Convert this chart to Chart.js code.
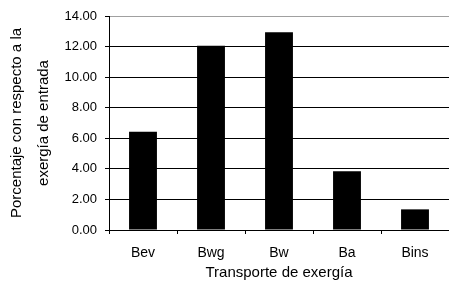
<!DOCTYPE html>
<html>
<head>
<meta charset="utf-8">
<script src="https://cdn.jsdelivr.net/npm/chart.js@4.4.0/dist/chart.umd.min.js"></script>
<style>
body{margin:0;background:#fff;}
#wrap{width:449px;height:282px;}
</style>
</head>
<body>
<div id="wrap"><canvas id="myChart" width="449" height="282"></canvas></div>
<script>
// datos
var categorias = ['Bev', 'Bwg', 'Bw', 'Ba', 'Bins'];
var porcentajes = [6.43, 12.05, 12.93, 3.84, 1.35];
var tituloY = ['Porcentaje con respecto a la', 'exergía de entrada'];
var tituloX = 'Transporte de exergía';

var fuente = "'Liberation Sans', Arial, sans-serif";

var ctx = document.getElementById('myChart').getContext('2d');
var chart = new Chart(ctx, {
    type: 'bar',
    data: {
        labels: categorias,
        datasets: [{
            data: porcentajes,
            backgroundColor: '#000',
            borderColor: '#000',
            borderWidth: 0,
            barPercentage: 0.41,
            categoryPercentage: 1
        }]
    },
    options: {
        responsive: false,
        animation: false,
        layout: { padding: { top: 16, right: 0, left: 0, bottom: 0 } },
        plugins: {
            legend: { display: false },
            tooltip: { enabled: false }
        },
        scales: {
            x: {
                offset: true,
                afterFit: function(s) { s.height = 52; },
                grid: {
                    offset: true,
                    drawOnChartArea: false,
                    drawTicks: true,
                    tickLength: 4,
                    tickColor: '#000'
                },
                border: { color: '#000', width: 1 },
                ticks: {
                    color: '#000',
                    padding: 11,
                    font: { family: fuente, size: 14 }
                },
                title: {
                    display: true,
                    text: tituloX,
                    color: '#000',
                    padding: { top: 0, bottom: 0 },
                    font: { family: fuente, size: 15 }
                }
            },
            y: {
                min: 0,
                max: 14,
                afterFit: function(s) { s.width = 109; },
                grid: {
                    color: function(c) { return c.tick && c.tick.value === 14 ? '#a0a0a0' : '#000'; },
                    lineWidth: 1,
                    tickLength: 4,
                    tickColor: '#000'
                },
                border: { color: '#000', width: 1 },
                ticks: {
                    stepSize: 2,
                    color: '#000',
                    padding: 8,
                    font: { family: fuente, size: 13 },
                    callback: function(v) { return v.toFixed(2); }
                },
                title: {
                    display: true,
                    text: tituloY,
                    color: '#000',
                    padding: { top: 3, bottom: 0 },
                    font: { family: fuente, size: 15, lineHeight: 1.8 }
                }
            }
        }
    }
});
</script>
</body>
</html>
